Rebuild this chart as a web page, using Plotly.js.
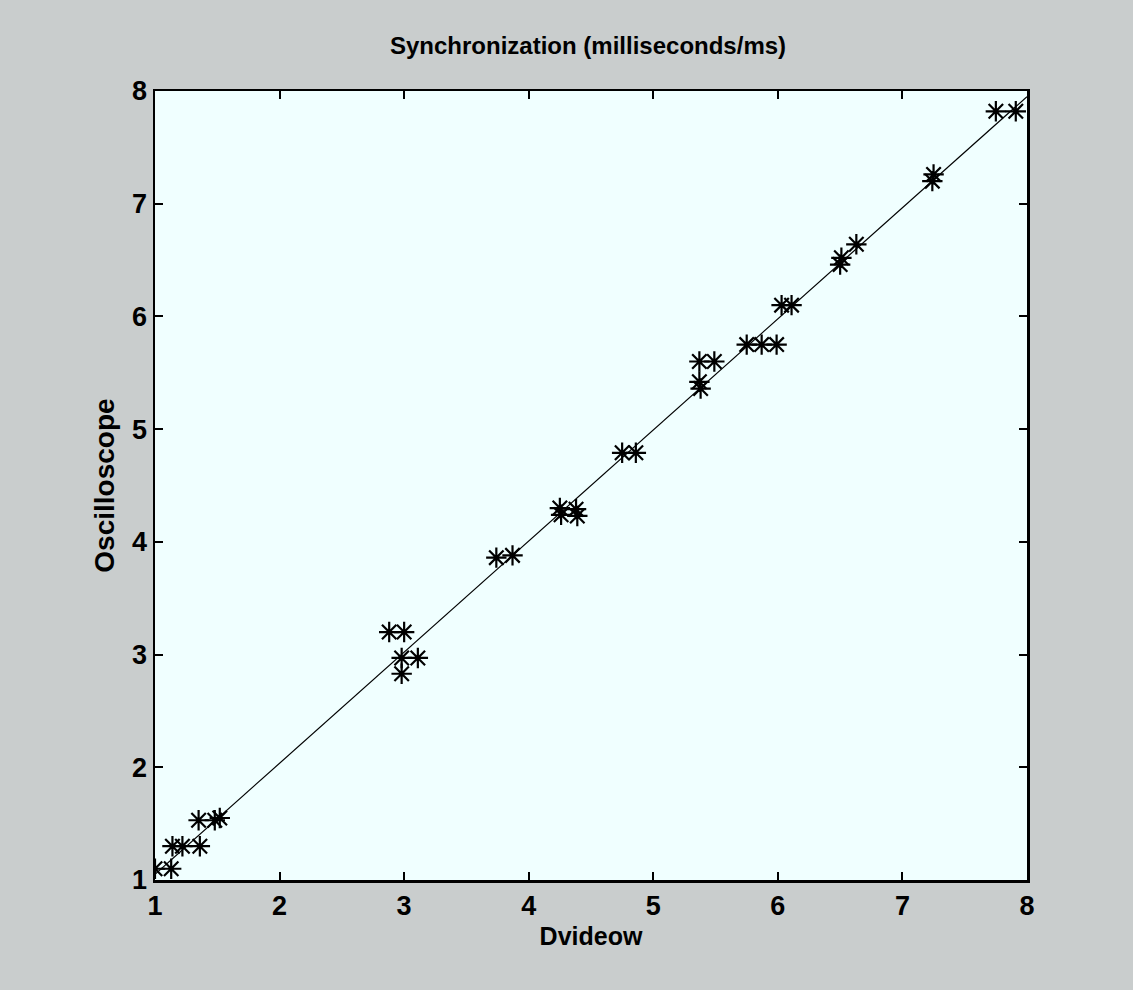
<!DOCTYPE html>
<html>
<head>
<meta charset="utf-8">
<script src="https://cdn.plot.ly/plotly-3.0.1.min.js"></script>
<style>html,body{margin:0;padding:0;background:#c9cdcd;}#chart{width:1133px;height:990px;}</style>
</head>
<body>
<div id="chart"></div>
<script>
// Measured points (Dvideow vs Oscilloscope)
const videoX = [1.0, 1.13, 1.14, 1.22, 1.36, 1.35, 1.48, 1.52, 2.88, 3.0, 2.98, 3.11, 2.98, 3.74, 3.87, 4.25, 4.26, 4.38, 4.39, 4.75, 4.86, 5.37, 5.38, 5.37, 5.49, 5.75, 5.87, 5.99, 6.03, 6.11, 6.50, 6.51, 6.63, 7.24, 7.25, 7.75, 7.91];
const scopeY = [1.1, 1.1, 1.3, 1.3, 1.3, 1.53, 1.53, 1.55, 3.2, 3.2, 2.97, 2.97, 2.83, 3.86, 3.88, 4.3, 4.24, 4.29, 4.23, 4.79, 4.79, 5.42, 5.36, 5.6, 5.6, 5.75, 5.75, 5.75, 6.1, 6.1, 6.46, 6.52, 6.64, 7.2, 7.26, 7.82, 7.82];
// Fitted line endpoints
const fitX = [1.0, 8.0];
const fitY = [1.05, 7.95];
const tickVals = [1, 2, 3, 4, 5, 6, 7, 8];
const tickText = ['1', '2', '3', '4', '5', '6', '7', '8'];

const FONT = '"Liberation Sans Narrow", "Liberation Sans", sans-serif';
function f(size) { return {family: FONT, size: size, color: '#000', weight: 'bold', stretch: 'condensed'}; }

const traces = [
  {x: fitX, y: fitY, mode: 'lines', type: 'scatter', line: {color: '#000', width: 1.2}, hoverinfo: 'skip'},
  {x: videoX, y: scopeY, mode: 'markers', type: 'scatter',
   marker: {symbol: 'asterisk-open', size: 17, color: '#000', line: {color: '#000', width: 2.2}}}
];

const axisCommon = {
  range: [1, 8], tickvals: tickVals, ticktext: tickText,
  showgrid: false, zeroline: false, showline: true, mirror: 'ticks',
  linecolor: '#000', linewidth: 2.5, ticks: 'inside', ticklen: 8, tickwidth: 2, tickcolor: '#000',
  tickfont: f(27)
};

const layout = {
  width: 1133, height: 990, autosize: false,
  margin: {l: 155, r: 106, t: 91, b: 110},
  paper_bgcolor: '#c9cdcd', plot_bgcolor: '#f0ffff',
  showlegend: false,
  title: {text: 'Synchronization (milliseconds/ms)', x: 0.519, xanchor: 'center', y: 0.954, yanchor: 'middle',
          font: f(24)},
  xaxis: Object.assign({}, axisCommon, {
    title: {text: 'Dvideow', standoff: 8, font: f(25)}
  }),
  yaxis: Object.assign({}, axisCommon, {
    title: {text: 'Oscilloscope', standoff: 10, font: f(28)}
  })
};

Plotly.newPlot('chart', traces, layout, {displayModeBar: false, staticPlot: true});
</script>
</body>
</html>
